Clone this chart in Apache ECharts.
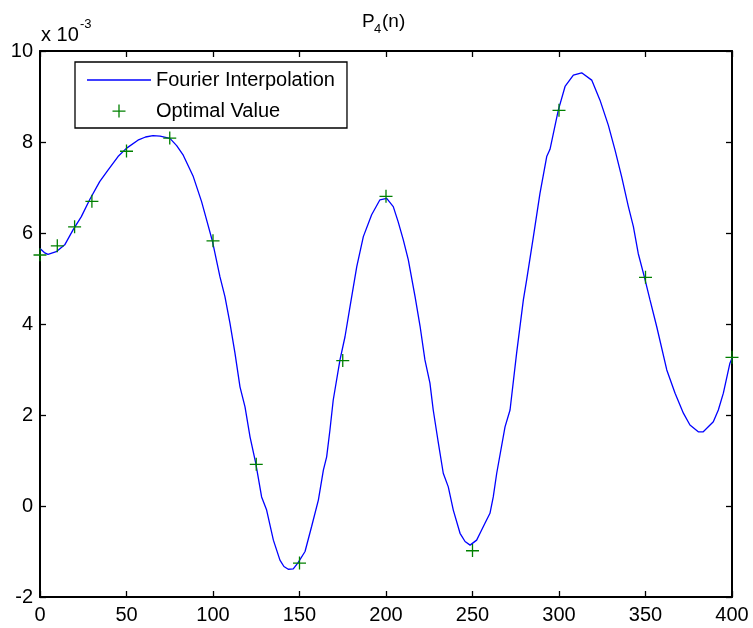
<!DOCTYPE html>
<html>
<head>
<meta charset="utf-8">
<style>
  html, body { margin: 0; padding: 0; background: #fff; }
  #chart { width: 753px; height: 628px; }
</style>
<script src="https://cdn.jsdelivr.net/npm/echarts@6/dist/echarts.min.js"></script>
</head>
<body>
<div id="chart"></div>
<script>
// Fourier interpolation of P_4(n); values are in units of 10^-3
const curveN = [0, 2.5, 4.6, 9.4, 14.3, 19.1, 23.9, 28.7, 34.5, 39.3, 45.1, 49.9, 56.6, 61, 65.3, 69.4,
  75.1, 79, 82.8, 88.6, 93.4, 96.3, 99.6, 104, 106.9, 109.8, 112.7, 115.6, 118.5, 121.4, 124.7, 128.1,
  131, 134.9, 138.7, 141, 143.5, 146.4, 149.3, 153.2, 157, 160.9, 163.8, 165.7, 167.6, 169.5, 173.4,
  176.3, 179.2, 183.1, 186.9, 191.7, 196.5, 200.4, 204.2, 207, 210, 212.9, 216.8, 219.7, 222.5, 225.4,
  227.3, 230, 233.1, 236, 238.9, 242.8, 245.7, 248.6, 252.4, 255, 257.2, 260.1, 262, 264, 268.8, 271.7,
  275.5, 279.4, 281.3, 285.2, 289, 292.9, 294.8, 299.6, 303.5, 308.3, 313.1, 318.9, 323.7, 328.5,
  332.4, 336.2, 340.1, 343, 345.8, 349.3, 352.6, 356.5, 362.3, 367.1, 371.9, 375.7, 380.5, 383.4,
  389.2, 392.1, 395, 398.8, 400];
const curveV = [5.66, 5.57, 5.53, 5.59, 5.74, 6.07, 6.36, 6.73, 7.13, 7.38, 7.68, 7.86, 8.04, 8.11, 8.14, 8.13,
  8.08, 7.92, 7.71, 7.24, 6.69, 6.29, 5.83, 5.04, 4.60, 4.02, 3.36, 2.62, 2.18, 1.52, 0.94, 0.20,
  -0.09, -0.75, -1.19, -1.33, -1.39, -1.38, -1.24, -1.00, -0.45, 0.13, 0.79, 1.08, 1.67, 2.33, 3.21,
  3.72, 4.38, 5.26, 5.92, 6.40, 6.73, 6.76, 6.58, 6.25, 5.85, 5.41, 4.60, 3.95, 3.21, 2.70,
  2.11, 1.45, 0.72, 0.42, -0.09, -0.60, -0.78, -0.86, -0.75, -0.55, -0.38, -0.16, 0.20, 0.72, 1.74, 2.11,
  3.36, 4.53, 4.97, 5.92, 6.87, 7.68, 7.84, 8.70, 9.22, 9.47, 9.52, 9.36, 8.92, 8.37,
  7.82, 7.24, 6.58, 6.14, 5.55, 5.04, 4.53, 3.94, 2.99, 2.48, 2.04, 1.78, 1.63, 1.63,
  1.85, 2.11, 2.48, 3.14, 3.25];

// Optimal values at the sample points (units of 10^-3)
const optN = [0, 10, 20, 30, 50, 75, 100, 125, 150, 175, 200, 250, 300, 350, 400];
const optV = [5.52, 5.72, 6.14, 6.70, 7.80, 8.09, 5.83, 0.92, -1.25, 3.20, 6.81, -0.98, 8.70, 5.03, 3.27];

// Axis ranges: [min, max, interval]
const xRange = [0, 400, 50];
const yRange = [-2, 10, 2];

const seriesNames = ['Fourier Interpolation', 'Optimal Value'];

const FONT = '"Liberation Sans", Arial, Helvetica, sans-serif';
const PLUS = 'path://M0,6 L13,6 L13,7.3 L0,7.3 Z M5.85,0 L7.15,0 L7.15,13 L5.85,13 Z';
const LINE_ICON = 'path://M0,0 L64,0 L64,1.4 L0,1.4 Z';

const chart = echarts.init(document.getElementById('chart'), null, { renderer: 'canvas' });

const axisLine = { show: true, onZero: false, lineStyle: { color: '#000', width: 2 } };
const tickIn = { show: true, inside: true, length: 6, lineStyle: { color: '#000', width: 1.3 } };

function xAxisDef(pos, labels) {
  return {
    type: 'value', position: pos, min: xRange[0], max: xRange[1], interval: xRange[2],
    axisLine: axisLine, axisTick: tickIn, splitLine: { show: false },
    axisLabel: { show: labels, color: '#000', fontFamily: FONT, fontSize: 20, margin: 8 }
  };
}
function yAxisDef(pos, labels) {
  return {
    type: 'value', position: pos, min: yRange[0], max: yRange[1], interval: yRange[2],
    axisLine: axisLine, axisTick: tickIn, splitLine: { show: false },
    axisLabel: { show: labels, color: '#000', fontFamily: FONT, fontSize: 20, margin: 7 }
  };
}

chart.setOption({
  animation: false,
  backgroundColor: '#fff',
  grid: { left: 40, right: 21, top: 51, bottom: 31, containLabel: false },
  xAxis: [xAxisDef('bottom', true), xAxisDef('top', false)],
  yAxis: [yAxisDef('left', true), yAxisDef('right', false)],
  legend: {
    left: 75, top: 62, orient: 'vertical',
    backgroundColor: '#fff',
    borderColor: '#000', borderWidth: 1.3,
    padding: [8, 12, 7, 12],
    itemGap: 11, itemWidth: 64, itemHeight: 13, itemTextGap: 9,
    textStyle: { color: '#000', fontFamily: FONT, fontSize: 20 },
    data: [
      { name: seriesNames[0], icon: LINE_ICON, itemStyle: { color: '#0000ff' } },
      { name: seriesNames[1], icon: PLUS, itemStyle: { color: '#008000' } }
    ]
  },
  graphic: [
    { type: 'text', left: 362, top: 12, style: { text: 'P', font: '19px ' + FONT, fill: '#000' } },
    { type: 'text', left: 374, top: 23, style: { text: '4', font: '13px ' + FONT, fill: '#000' } },
    { type: 'text', left: 382, top: 12, style: { text: '(n)', font: '19px ' + FONT, fill: '#000' } },
    { type: 'text', left: 41, top: 25, style: { text: 'x 10', font: '20px ' + FONT, fill: '#000' } },
    { type: 'text', left: 80, top: 18, style: { text: '-3', font: '13px ' + FONT, fill: '#000' } }
  ],
  series: [
    {
      name: seriesNames[0], type: 'line', xAxisIndex: 0, yAxisIndex: 0,
      data: curveN.map((n, i) => [n, curveV[i]]),
      symbol: 'none', showSymbol: false, clip: false,
      lineStyle: { color: '#0000ff', width: 1.3 },
      itemStyle: { color: '#0000ff' }
    },
    {
      name: seriesNames[1], type: 'scatter', xAxisIndex: 0, yAxisIndex: 0,
      data: optN.map((n, i) => [n, optV[i]]),
      symbol: PLUS, symbolSize: 13, clip: false,
      itemStyle: { color: '#008000', opacity: 1 },
      z: 3
    }
  ]
});
</script>
</body>
</html>
